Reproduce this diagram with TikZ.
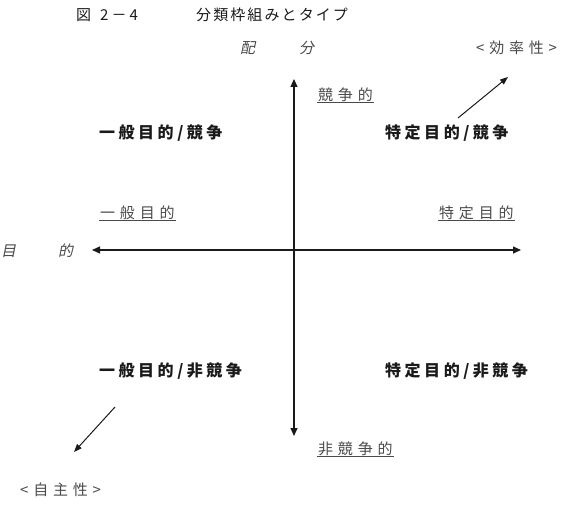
\documentclass[tikz,border=0pt]{standalone}
\usepackage{fontspec}
\usetikzlibrary{arrows.meta}
\newfontfamily\cjktitle[LetterSpace=14]{Noto Sans CJK JP}
\newfontfamily\cjkls[LetterSpace=32]{Noto Sans CJK JP}
\newfontfamily\cjkbr[LetterSpace=32]{Noto Sans CJK JP}
\newfontfamily\cjkq[LetterSpace=22]{Noto Sans CJK JP}
\newfontfamily\cjkit[FakeSlant=0.2]{Noto Sans CJK JP}
\definecolor{labgray}{HTML}{4A4A4A}
\definecolor{ink}{HTML}{1A1A1A}
\begin{document}
\begin{tikzpicture}[x=1pt,y=-1pt,
  titletext/.style={anchor=west,inner sep=0pt,text=ink,font=\cjktitle\fontsize{15}{15}\selectfont},
  quad/.style={anchor=west,inner sep=0pt,text=ink,font=\cjkq\bfseries\fontsize{16}{16}\selectfont},
  sublab/.style={anchor=west,inner sep=1pt,text=labgray,font=\cjkls\fontsize{15}{15}\selectfont},
  brlab/.style={anchor=west,inner sep=0pt,text=labgray,font=\cjkbr\fontsize{15}{15}\selectfont},
  axlab/.style={anchor=west,inner sep=0pt,text=labgray,font=\cjkit\fontsize{15}{15}\selectfont},
  axis/.style={line width=1.1pt,draw=ink,{Triangle[length=8pt,width=7pt]}-{Triangle[length=8pt,width=7pt]}},
  diag/.style={line width=1pt,draw=ink,-{Triangle[length=8pt,width=6pt]}},
  uline/.style={line width=0.9pt,draw=labgray}]
\useasboundingbox (0,0) rectangle (561,508);
% titles
\node[titletext] (t1) at (76,15) {図\hspace{9pt}2\hspace{3pt}－\hspace{3pt}4};
\node[titletext] (t2) at (196,15) {分類枠組みとタイプ};
% axis labels
\node[axlab] (ax1) at (240,48) {配\hspace{44pt}分};
\node[axlab] (ax2) at (1,251) {目\hspace{42pt}的};
\node[brlab] (eff) at (476,48) {<効率性>};
\node[brlab] (aut) at (20,490) {<自主性>};
% axes
\coordinate (vtop) at (294,79);
\coordinate (vbot) at (294,436);
\coordinate (hl) at (92,250);
\coordinate (hr) at (521,250);
\draw[axis] (vtop) -- (vbot);
\draw[axis] (hl) -- (hr);
% end labels
\node[sublab] (comp) at (317,95) {競争的};
\node[sublab] (gen) at (99,213) {一般目的};
\node[sublab] (spec) at (438,213) {特定目的};
\node[sublab] (ncomp) at (317,449) {非競争的};
\foreach \n in {comp,gen,spec,ncomp}
  \draw[uline] ([yshift=1pt]\n.south west) -- ([yshift=1pt]\n.south east);
% quadrant labels
\node[quad] (q1) at (99,133) {一般目的/競争};
\node[quad] (q2) at (385,133) {特定目的/競争};
\node[quad] (q3) at (99,371) {一般目的/非競争};
\node[quad] (q4) at (385,371) {特定目的/非競争};
% diagonal arrows
\coordinate (d1s) at (458,118);
\coordinate (d1e) at (508,77);
\coordinate (d2s) at (115,407);
\coordinate (d2e) at (74,452);
\draw[diag] (d1s) -- (d1e);
\draw[diag] (d2s) -- (d2e);
\end{tikzpicture}
\end{document}
